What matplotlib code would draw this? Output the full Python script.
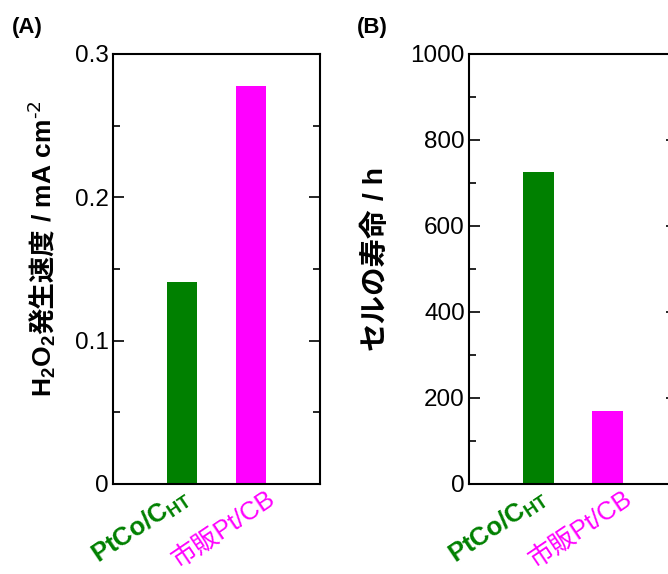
import matplotlib
matplotlib.use("Agg")
import matplotlib.pyplot as plt
import matplotlib.transforms as mtransforms
from matplotlib.ticker import MultipleLocator

plt.rcParams['font.family'] = ['Liberation Sans', 'Noto Sans CJK JP', 'DejaVu Sans']
plt.rcParams['mathtext.default'] = 'regular'

# data
catalysts = ["PtCo/C$_{HT}$", "市販Pt/CB"]
h2o2_rate = [0.141, 0.278]      # mA cm-2
cell_life = [725, 170]          # h
bar_colors = ["#008000", "#ff00ff"]
label_weights = ["bold", "normal"]
h2o2_ticks = [0, 0.1, 0.2, 0.3]
h2o2_ticklabels = ["0", "0.1", "0.2", "0.3"]
life_ticks = [0, 200, 400, 600, 800, 1000]

W, H = 668, 574
fig = plt.figure(figsize=(W / 100, H / 100), dpi=100)


def px_axes(left, top, right, bottom):
    return fig.add_axes([left / W, 1 - bottom / H, (right - left) / W, (bottom - top) / H])


def draw_panel(ax, values, ymax, minor):
    x = list(range(len(catalysts)))
    ax.bar(x, values, width=0.44, color=bar_colors)
    ax.set_xlim(-1, 2)
    ax.set_ylim(0, ymax)
    ax.yaxis.set_minor_locator(MultipleLocator(minor))
    ax.tick_params(axis='y', which='both', direction='in', left=True, right=True,
                   width=1.2, labelsize=17.5, pad=3)
    ax.tick_params(axis='y', which='major', length=8)
    ax.tick_params(axis='y', which='minor', length=5)
    ax.set_xticks([])
    for sp in ax.spines.values():
        sp.set_linewidth(1.5)
    # slanted category labels, offsets in pixels from the bar centre / axis bottom
    base = mtransforms.blended_transform_factory(ax.transData, ax.transAxes)
    offsets = [(-83, -80), (-72, -84)]
    for xi, name, c, w, (dx, dy) in zip(x, catalysts, bar_colors, label_weights, offsets):
        tr = mtransforms.offset_copy(base, fig=fig, x=dx, y=dy, units='dots')
        ax.text(xi, 0, name, transform=tr, rotation=34, rotation_mode='anchor',
                ha='left', va='baseline', color=c, fontweight=w, fontsize=18.5,
                clip_on=False)


def vertical_label(x_px, y_bottom_px, pieces, size):
    # stack rotated pieces bottom -> top on a common baseline
    renderer = fig.canvas.get_renderer()
    y = y_bottom_px
    for p in pieces:
        t = fig.text(x_px / W, 1 - y / H, p, rotation=90, rotation_mode='anchor',
                     ha='left', va='baseline', fontsize=size, fontweight='bold')
        bb = t.get_window_extent(renderer)
        y -= bb.height


axA = px_axes(113, 54, 320, 484)
axB = px_axes(469, 54, 677, 484)

draw_panel(axA, h2o2_rate, 0.3, 0.05)
axA.set_yticks(h2o2_ticks)
axA.set_yticklabels(h2o2_ticklabels)
draw_panel(axB, cell_life, 1000, 100)
axB.set_yticks(life_ticks)

vertical_label(52, 397, ["H$_2$O$_2$", "発生速度", " / mA cm$^{\\text{-2}}$"], 19)
vertical_label(383, 350, ["セルの寿命", " / h"], 20.5)

fig.text(12 / W, 1 - 27 / H, "(A)", ha='left', va='center', fontsize=16, fontweight='bold')
fig.text(357 / W, 1 - 27 / H, "(B)", ha='left', va='center', fontsize=16, fontweight='bold')

fig.savefig("out.png", dpi=100)
